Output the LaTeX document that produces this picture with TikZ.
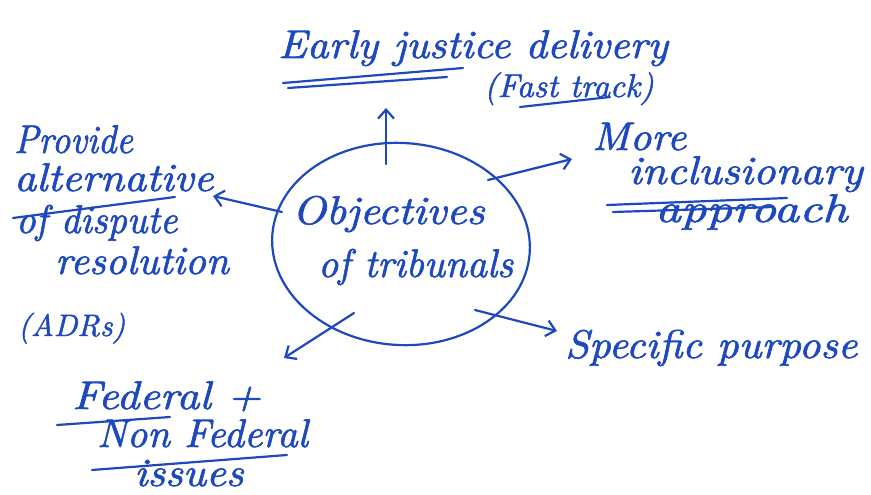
\documentclass[tikz,border=0pt]{standalone}
\usepackage{fontspec}
\usetikzlibrary{shapes.geometric,arrows.meta,calc}
\newfontfamily\handfont{lmroman10-italic.otf}[FakeBold=1.5]
\definecolor{ink}{RGB}{30,72,190}
\tikzset{
  hand/.style={text=ink, inner sep=0pt, anchor=base west, transform shape,
    font=\handfont\fontsize{40}{44}\selectfont},
  small/.style={font=\handfont\fontsize{33}{36}\selectfont},
  pen/.style={draw=ink, line width=2.2pt, line cap=round, line join=round},
  arr/.style={pen, -{Straight Barb[length=9pt,width=16pt,line width=2.2pt]}},
}
\begin{document}
\begin{tikzpicture}[x=1pt,y=-1pt]
\useasboundingbox (0,0) rectangle (871,495);

% central bubble
\node[pen, ellipse, minimum width=258pt, minimum height=202pt, rotate=-4] (obj) at (401,244) {};
\node[hand, xscale=1.1] (objA) at (292,224) {Objectives};
\node[hand, xscale=0.98] (objB) at (318,277) {of tribunals};

% top branch
\node[hand, xscale=1.06] (early) at (278,58) {Early justice delivery};
\node[hand, small] (fast) at (484,97) {(Fast track)};
\draw[pen] (283,83) -- (463,68);
\draw[pen] (288,88) -- (447,77);
\draw[pen] (520,107) -- (610,97);
\coordinate (toEarly) at (386,108);
\draw[arr] ($(obj.center)+(-15,-80)$) -- (toEarly);

% left branch
\node[hand, xscale=0.9] (provA) at (14,153) {Provide};
\node[hand, xscale=1.08] (provB) at (14,191) {alternative};
\node[hand, xscale=0.95] (provC) at (16,233) {of dispute};
\node[hand, xscale=1.02] (provD) at (55,274) {resolution};
\node[hand, font=\handfont\fontsize{31}{34}\selectfont] (provE) at (18,336) {(ADRs)};
\draw[pen] (13,218) -- (175,197);
\coordinate (toProv) at (213,196);
\draw[arr] ($(obj.center)+(-119,-32)$) -- (toProv);

% right upper branch
\node[hand, xscale=1.05] (moreA) at (592,150) {More};
\node[hand, xscale=1.1] (moreB) at (628,184) {inclusionary};
\node[hand, xscale=1.25] (moreC) at (655,222) {approach};
\draw[pen] (607,205) -- (787,198);
\draw[pen] (613,212) -- (773,207);
\coordinate (toMore) at (572,159);
\draw[arr] ($(obj.center)+(87,-64)$) -- (toMore);

% right lower branch
\node[hand, xscale=1.06] (spec) at (565,358) {Specific purpose};
\coordinate (toSpec) at (557,331);
\draw[arr] ($(obj.center)+(74,66)$) -- (toSpec);

% lower left branch
\node[hand, xscale=1.12] (fedA) at (72,409) {Federal +};
\node[hand, xscale=1.0] (fedB) at (97,447) {Non Federal};
\node[hand, xscale=1.08] (fedC) at (134,486) {issues};
\draw[pen] (57,425) -- (170,417);
\draw[pen] (92,470) -- (287,455);
\coordinate (toFed) at (284,358);
\draw[arr] ($(obj.center)+(-47,69)$) -- (toFed);
\end{tikzpicture}
\end{document}
